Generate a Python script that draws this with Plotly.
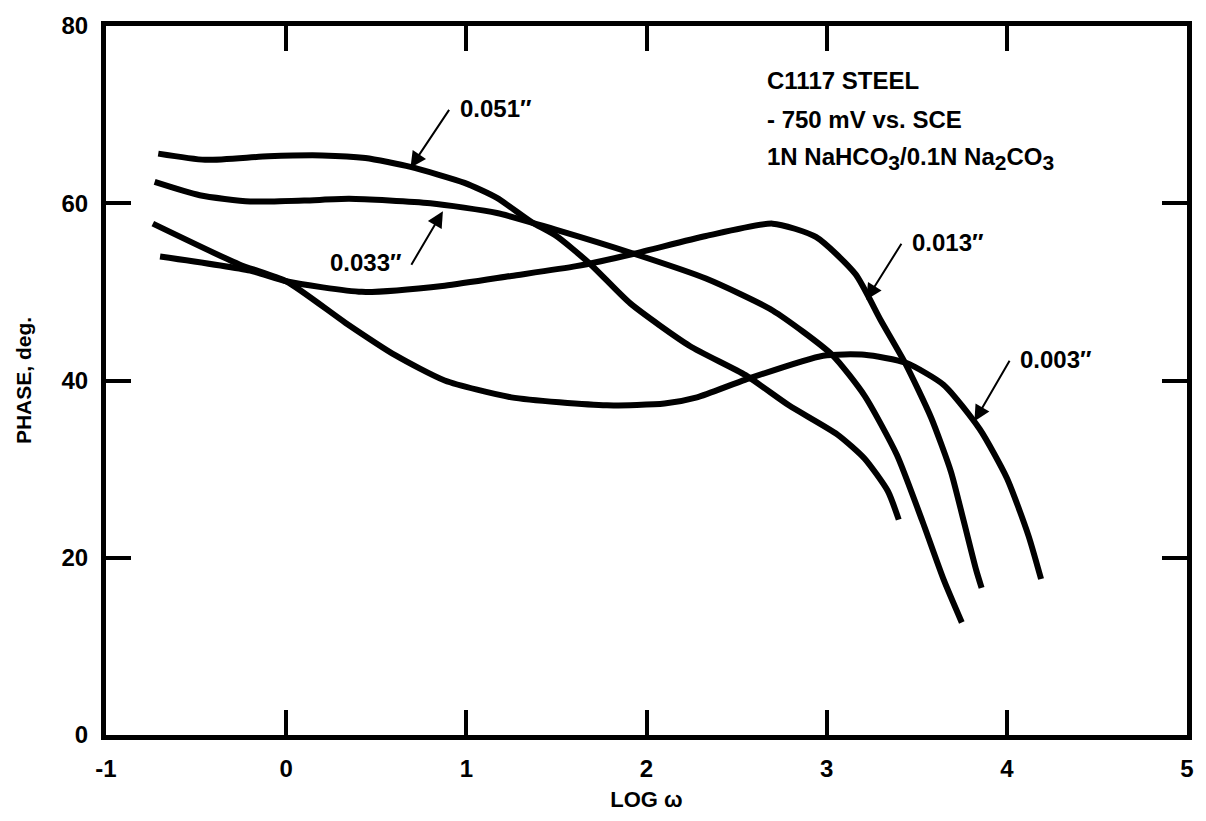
import plotly.graph_objects as go

# ---- data ----
x_051 = [-0.71, -0.45, -0.10, 0.20, 0.44, 0.69, 0.99, 1.17, 1.36, 1.50, 1.69, 1.91, 2.24, 2.55, 2.79, 3.06, 3.21, 3.34, 3.40]
y_051 = [65.6, 64.9, 65.3, 65.4, 65.1, 64.1, 62.3, 60.6, 57.9, 56.3, 53.1, 48.7, 43.9, 40.6, 37.2, 33.9, 31.2, 27.5, 24.3]

x_033 = [-0.73, -0.48, -0.20, 0.10, 0.35, 0.80, 1.17, 1.50, 1.93, 2.33, 2.70, 3.03, 3.21, 3.39, 3.53, 3.65, 3.75]
y_033 = [62.4, 60.9, 60.2, 60.3, 60.5, 60.0, 58.9, 57.0, 54.3, 51.5, 47.9, 42.9, 38.3, 31.6, 24.2, 17.5, 12.7]

x_013 = [-0.70, -0.20, 0.00, 0.42, 0.88, 1.25, 1.61, 1.93, 2.33, 2.70, 2.94, 3.16, 3.30, 3.44, 3.58, 3.69, 3.76, 3.83, 3.86]
y_013 = [54.0, 52.4, 51.2, 50.0, 50.7, 51.8, 52.9, 54.3, 56.3, 57.7, 56.2, 52.0, 46.8, 41.8, 35.8, 29.7, 24.2, 18.6, 16.6]

x_003 = [-0.74, -0.26, 0.00, 0.33, 0.61, 0.88, 1.25, 1.78, 2.10, 2.28, 2.55, 2.98, 3.21, 3.44, 3.65, 3.85, 4.00, 4.12, 4.19]
y_003 = [57.7, 53.1, 51.2, 46.5, 42.8, 40.0, 38.1, 37.2, 37.4, 38.1, 40.1, 42.8, 42.9, 42.0, 39.5, 34.5, 29.0, 22.5, 17.6]

x_ticks = [-1, 0, 1, 2, 3, 4, 5]
y_ticks = [0, 20, 40, 60, 80]

labels = ["0.051\u2033", "0.033\u2033", "0.013\u2033", "0.003\u2033"]
# arrow head (x, y) and tail (x, y) in data units
arrow_head = [(0.69, 64.0), (0.87, 59.1), (3.22, 49.1), (3.82, 35.4)]
arrow_tail = [(0.91, 70.7), (0.69, 52.9), (3.42, 55.6), (4.02, 42.4)]
label_side = ["right", "left", "right", "right"]

SUB = "<sub><span style='font-size:21px'>{}</span></sub>"
info_lines = ["C1117 STEEL", "- 750 mV vs. SCE",
              "1N NaHCO" + SUB.format("3") + "/0.1N Na" + SUB.format("2") + "CO" + SUB.format("3")]
info_y = [73.8, 69.5, 65.1]

FONT = "Liberation Sans, Arial, sans-serif"

fig = go.Figure()
for xs, ys in [(x_051, y_051), (x_033, y_033), (x_013, y_013), (x_003, y_003)]:
    fig.add_trace(go.Scatter(x=xs, y=ys, mode="lines",
                             line=dict(color="black", width=6, shape="spline", smoothing=0.6),
                             showlegend=False, hoverinfo="skip"))

# curve labels with arrows
for lab, (hx, hy), (tx, ty), side in zip(labels, arrow_head, arrow_tail, label_side):
    fig.add_annotation(x=hx, y=hy, ax=tx, ay=ty, xref="x", yref="y", axref="x", ayref="y",
                       text="", showarrow=True, arrowhead=2, arrowsize=1.6, arrowwidth=2,
                       arrowcolor="black", standoff=0, startstandoff=0)
    if side == "right":
        fig.add_annotation(x=tx, y=ty, xref="x", yref="y", text=lab, showarrow=False,
                           xanchor="left", yanchor="middle", xshift=8,
                           font=dict(family=FONT, size=24, color="black", weight="bold"))
    else:
        fig.add_annotation(x=tx, y=ty, xref="x", yref="y", text=lab, showarrow=False,
                           xanchor="right", yanchor="middle", xshift=-6, yshift=4,
                           font=dict(family=FONT, size=24, color="black", weight="bold"))

for txt, yy in zip(info_lines, info_y):
    fig.add_annotation(x=2.66, y=yy, xref="x", yref="y", text=txt, showarrow=False,
                       xanchor="left", yanchor="middle",
                       font=dict(family=FONT, size=24, color="black", weight="bold"))

axis_common = dict(showline=True, linewidth=5, linecolor="black", mirror="ticks",
                   ticks="inside", ticklen=25, tickwidth=4, tickcolor="black",
                   showgrid=False, zeroline=False,
                   tickfont=dict(family=FONT, size=24, color="black", weight="bold"))

fig.update_xaxes(range=[-1, 5], tickvals=x_ticks, ticktext=[str(v) for v in x_ticks],
                 ticklabelstandoff=8,
                 title=dict(text="LOG \u03c9", standoff=12,
                            font=dict(family=FONT, size=22, color="black", weight="bold")),
                 **axis_common)
fig.update_yaxes(range=[0, 80], tickvals=y_ticks, ticktext=[str(v) for v in y_ticks],
                 ticklabelstandoff=8,
                 title=dict(text="PHASE, deg.", standoff=26,
                            font=dict(family=FONT, size=21, color="black", weight="bold")),
                 **axis_common)

fig.update_layout(width=1206, height=821, plot_bgcolor="white", paper_bgcolor="white",
                  margin=dict(l=106, r=12, t=17, b=84))

fig.write_html("out.html")
